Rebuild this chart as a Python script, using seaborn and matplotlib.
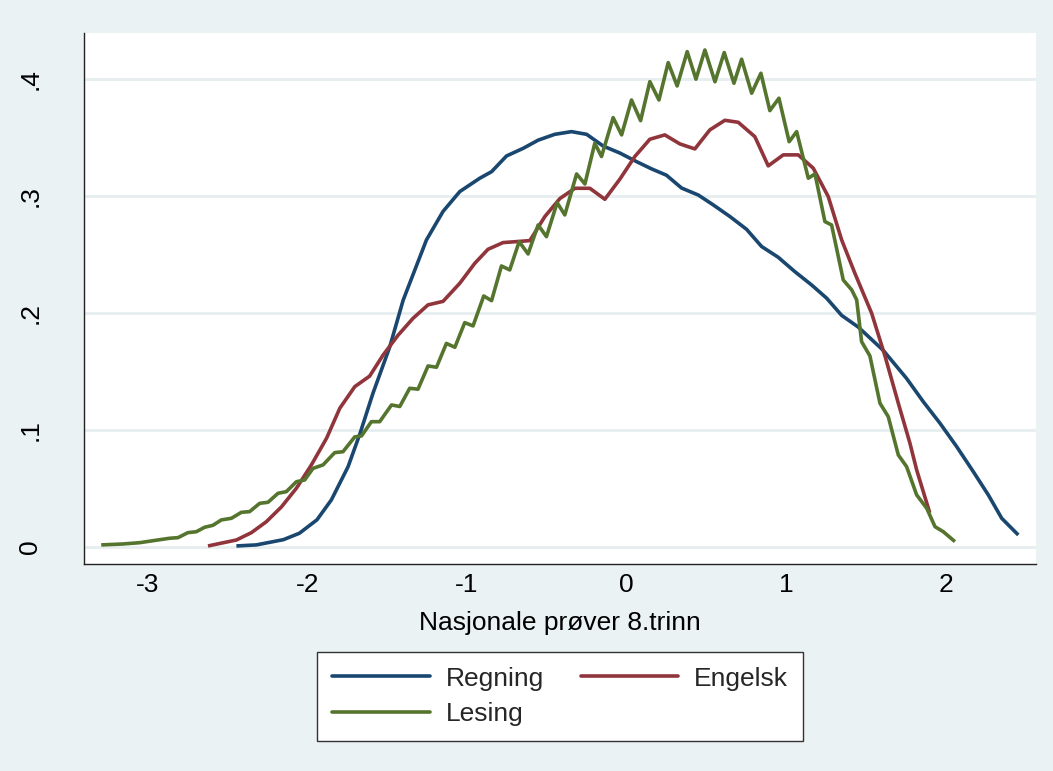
import matplotlib
matplotlib.use("Agg")
import matplotlib.pyplot as plt
import seaborn as sns
import pandas as pd
from matplotlib.lines import Line2D

regning_x = [-2.445, -2.32, -2.15, -2.05, -1.94, -1.85, -1.745, -1.67, -1.59, -1.484, -1.40, -1.254, -1.15, -1.045,
             -0.92, -0.846, -0.752, -0.648, -0.554, -0.45, -0.345, -0.25, -0.147, -0.042, 0.063, 0.157, 0.25, 0.345,
             0.45, 0.543, 0.648, 0.752, 0.846, 0.95, 1.055, 1.16, 1.254, 1.348, 1.452, 1.609, 1.755, 1.86, 1.964,
             2.069, 2.173, 2.267, 2.351, 2.455]
regning_y = [0.0006, 0.0015, 0.006, 0.0115, 0.023, 0.040, 0.0685, 0.097, 0.131, 0.171, 0.211, 0.2626, 0.287, 0.304,
             0.3154, 0.321, 0.3345, 0.341, 0.348, 0.353, 0.3553, 0.353, 0.343, 0.337, 0.3296, 0.3234, 0.318, 0.307,
             0.301, 0.2926, 0.2826, 0.2717, 0.257, 0.2478, 0.2354, 0.224, 0.2127, 0.198, 0.188, 0.168, 0.144, 0.124,
             0.1057, 0.0856, 0.0642, 0.0443, 0.0243, 0.010]

engelsk_x = [-2.623, -2.54, -2.445, -2.351, -2.257, -2.163, -2.069, -1.975, -1.88, -1.797, -1.703, -1.61, -1.526,
             -1.432, -1.338, -1.244, -1.15, -1.045, -0.951, -0.868, -0.774, -0.606, -0.512, -0.418, -0.324, -0.23,
             -0.136, -0.042, 0.052, 0.146, 0.24, 0.334, 0.428, 0.522, 0.616, 0.70, 0.804, 0.888, 0.982, 1.076, 1.17,
             1.264, 1.348, 1.431, 1.536, 1.62, 1.703, 1.776, 1.818, 1.90]
engelsk_y = [0.0006, 0.003, 0.0057, 0.012, 0.0214, 0.034, 0.05, 0.07, 0.0928, 0.1185, 0.137, 0.146, 0.164, 0.181,
             0.1955, 0.207, 0.21, 0.2255, 0.2426, 0.2546, 0.2603, 0.262, 0.2826, 0.298, 0.3068, 0.3068, 0.2974,
             0.3146, 0.334, 0.3488, 0.3525, 0.3448, 0.3405, 0.3568, 0.365, 0.3633, 0.351, 0.326, 0.3354, 0.3354,
             0.324, 0.2997, 0.2626, 0.234, 0.1998, 0.163, 0.1228, 0.0885, 0.0657, 0.029]

lesing_x = [-3.292, -3.156, -3.051, -2.968, -2.863, -2.811, -2.749, -2.696, -2.644, -2.592, -2.539, -2.476, -2.414,
            -2.362, -2.299, -2.247, -2.184, -2.132, -2.069, -2.017, -1.965, -1.902, -1.829, -1.777, -1.703, -1.661,
            -1.599, -1.547, -1.473, -1.421, -1.359, -1.307, -1.244, -1.191, -1.129, -1.076, -1.014, -0.962, -0.895,
            -0.846, -0.784, -0.732, -0.673, -0.617, -0.554, -0.502, -0.435, -0.387, -0.313, -0.261, -0.199, -0.157,
            -0.084, -0.031, 0.031, 0.088, 0.146, 0.203, 0.261, 0.317, 0.38, 0.435, 0.491, 0.554, 0.612, 0.673, 0.721,
            0.784, 0.842, 0.898, 0.955, 1.019, 1.066, 1.139, 1.181, 1.243, 1.285, 1.358, 1.411, 1.442, 1.473, 1.525,
            1.588, 1.640, 1.703, 1.755, 1.818, 1.881, 1.933, 1.985, 2.058]
lesing_y = [0.0015, 0.0023, 0.0034, 0.0051, 0.0072, 0.0077, 0.012, 0.0128, 0.0166, 0.0183, 0.0229, 0.0243, 0.0294,
            0.030, 0.0371, 0.038, 0.0457, 0.0471, 0.0556, 0.0571, 0.067, 0.070, 0.0805, 0.0813, 0.094, 0.0948, 0.107,
            0.107, 0.1213, 0.120, 0.1356, 0.1348, 0.1547, 0.1536, 0.174, 0.1707, 0.1918, 0.189, 0.2146, 0.2106,
            0.2403, 0.2369, 0.2611, 0.2506, 0.2754, 0.2654, 0.2945, 0.284, 0.3191, 0.3105, 0.3454, 0.334, 0.3673,
            0.3525, 0.3824, 0.3647, 0.3981, 0.3824, 0.4144, 0.3944, 0.4238, 0.4002, 0.4252, 0.398, 0.423, 0.3967,
            0.4173, 0.3882, 0.4053, 0.3733, 0.3839, 0.3467, 0.3553, 0.3154, 0.3191, 0.2783, 0.2754, 0.2283, 0.2198,
            0.2113, 0.1755, 0.1633, 0.1228, 0.1113, 0.0785, 0.0685, 0.0443, 0.0329, 0.0171, 0.0128, 0.0043]

series_names = ["Regning", "Engelsk", "Lesing"]
x_ticks = [-3, -2, -1, 0, 1, 2]
x_tick_labels = ["-3", "-2", "-1", "0", "1", "2"]
y_ticks = [0, 0.1, 0.2, 0.3, 0.4]
y_tick_labels = ["0", ".1", ".2", ".3", ".4"]
x_title = "Nasjonale prøver 8.trinn"

colors = {"Regning": "#1A476F", "Engelsk": "#90353B", "Lesing": "#55752F"}
bg = "#EAF2F3"
grid_c = "#E6EEF0"

frames = []
for name, xs, ys in [("Regning", regning_x, regning_y), ("Engelsk", engelsk_x, engelsk_y),
                     ("Lesing", lesing_x, lesing_y)]:
    frames.append(pd.DataFrame({"x": xs, "y": ys, "serie": name}))
df = pd.concat(frames, ignore_index=True)

sns.set_theme(style="white")
plt.rcParams["font.family"] = ["Liberation Sans", "DejaVu Sans"]
FS = 19

fig = plt.figure(figsize=(10.53, 7.71), dpi=100)
fig.patch.set_facecolor(bg)
ax = fig.add_axes([84 / 1053, 1 - 564.3 / 771, (1035.7 - 84) / 1053, (564.3 - 32.7) / 771])
ax.set_facecolor("white")

sns.lineplot(data=df, x="x", y="y", hue="serie", hue_order=series_names, palette=colors,
             estimator=None, sort=False, linewidth=2.6, ax=ax, legend=False)
for ln in ax.lines:
    ln.set_solid_joinstyle("round")
    ln.set_solid_capstyle("butt")

ax.set_xlim(-3.40, 2.564)
ax.set_ylim(-0.0151, 0.440)
ax.set_xticks(x_ticks)
ax.set_xticklabels(x_tick_labels, fontsize=FS)
ax.set_yticks(y_ticks)
ax.set_yticklabels(y_tick_labels, fontsize=FS, rotation=90, va="center")
ax.yaxis.grid(True, color=grid_c, linewidth=2.0)
ax.xaxis.grid(False)
ax.set_axisbelow(True)
for s in ["top", "right"]:
    ax.spines[s].set_visible(False)
for s in ["left", "bottom"]:
    ax.spines[s].set_color("#222222")
    ax.spines[s].set_linewidth(1.0)
ax.tick_params(axis="both", direction="out", length=7, width=1, color="#222222", labelcolor="black")
ax.tick_params(axis="x", pad=-0.5)
ax.tick_params(axis="y", pad=23)
ax.set_xlabel(x_title, fontsize=FS, labelpad=10, color="black")
ax.set_ylabel("")

order = ["Regning", "Lesing", "Engelsk"]
handles = [Line2D([0], [0], color=colors[n], linewidth=2.6) for n in order]
leg = fig.legend(handles, order, loc="center", ncol=2, fontsize=FS,
                 bbox_to_anchor=(315 / 1053, 1 - 740 / 771, 490 / 1053, 87 / 771),
                 bbox_transform=fig.transFigure, frameon=True, fancybox=False, framealpha=1.0,
                 handlelength=3.7, handletextpad=0.6, columnspacing=1.4, labelspacing=0.45,
                 borderpad=0.55, borderaxespad=0.0)
leg.get_frame().set_edgecolor("#333333")
leg.get_frame().set_linewidth(1.0)
leg.get_frame().set_facecolor("white")

fig.savefig("out.png", dpi=100, facecolor=bg)
